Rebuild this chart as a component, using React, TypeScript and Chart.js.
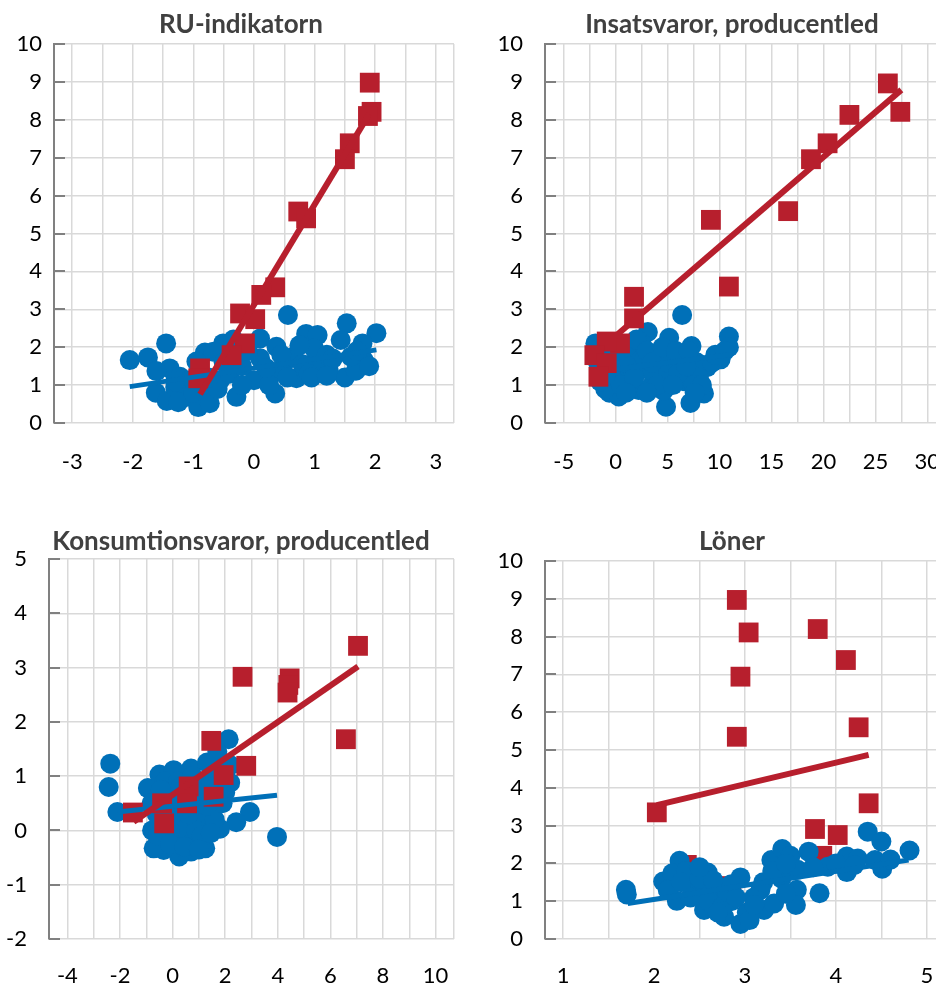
import React, { useEffect, useRef } from 'react';
import { Chart, registerables } from 'chart.js';

Chart.register(...registerables);

const RED = '#B71F2D';
const BLUE = '#0070B8';
const GRID = '#D9D9D9';
const AXIS = '#808080';
const TITLE_COLOR = '#404040';
const FONT_FAMILY = 'Lato, "Open Sans", sans-serif';

// ---------- Panel 1: RU-indikatorn ----------
const ruBlueX = [-2.05, -1.75, -1.45, -1.39, -1.61, -1.62, -1.44, -1.22, -1.11, -0.92, -0.81, -0.51, -0.29, -0.73, -1.06, -0.95, -0.67, -0.34, 0.10, 0.37, 0.56, 0.86, 1.05, 1.53, 2.02, 1.43, 1.79, 0.70, 0.35, 1.50, 1.23, 1.81, 1.68, 1.01, 0.10, 0.48, 0.00, 0.65, -0.56, -0.73, 0.99, -0.40, -0.20, 0.30, -1.30, 1.20, -0.85, -0.60, 1.60, 0.80, -1.30, -0.90, -0.50, -0.10, 0.25, 0.55, 0.90, 1.30, 1.70, 1.90, -1.25, 0.20, 0.75, -0.20, 0.45, 0.95, 1.20, -1.00, -0.75];
const ruBlueY = [1.66, 1.73, 2.10, 1.44, 1.37, 0.80, 0.58, 1.22, 0.69, 0.42, 1.86, 2.10, 0.69, 0.78, 1.13, 1.62, 1.88, 2.20, 2.23, 2.01, 2.85, 2.35, 2.32, 2.63, 2.37, 2.19, 2.10, 1.18, 0.78, 1.20, 1.42, 1.66, 1.38, 1.60, 1.71, 1.49, 1.13, 1.75, 1.13, 0.52, 1.97, 1.30, 1.50, 1.30, 0.95, 1.80, 1.00, 0.90, 1.75, 1.55, 1.10, 1.30, 1.60, 1.90, 1.00, 1.20, 1.30, 1.70, 1.90, 1.50, 0.55, 1.45, 2.05, 1.00, 1.80, 1.20, 1.25, 0.80, 1.20];
const ruRedX = [1.91, 1.94, 1.88, 1.58, 1.50, 0.73, 0.86, 0.35, 0.12, -0.23, 0.02, -0.15, -0.37, -0.89, -0.92];
const ruRedY = [8.98, 8.21, 8.10, 7.38, 6.96, 5.58, 5.40, 3.58, 3.38, 2.89, 2.74, 2.10, 1.79, 1.44, 1.18];
const ruBlueTrendX = [-2.05, 2.02];
const ruBlueTrendY = [0.96, 1.93];
const ruRedTrendX = [-0.89, 1.9];
const ruRedTrendY = [0.76, 8.15];

// ---------- Panel 2: Insatsvaror, producentled ----------
const insBlueX = [6.4, 10.9, 10.9, 10.1, 8.8, 7.3, 8.5, 7.2, 4.85, 5.6, 5.15, 3.1, 6.4, 2.2, -0.6, 0.3, -1.95, 0.3, 4.6, 6.7, 3.9, 2.2, 1.3, -1.0, 1.5, 2.5, 4.2, 3.5, -1.3, 7.8, 9.3, 0.8, 2.8, 5.0, 6.0, 8.0, -1.5, 1.0, 3.2, 7.5, -1.7, -1.2, -0.5, 0.0, 0.5, 1.8, 2.0, 3.0, 3.5, 4.5, 4.0, 5.5, 5.8, 6.8, 7.0, 8.3, 9.6, 10.5, 7.6, 3.0, -1.0, 1.0];
const insBlueY = [2.85, 2.28, 2.0, 1.68, 1.47, 2.03, 0.78, 0.53, 0.43, 1.4, 2.25, 2.4, 1.7, 0.87, 0.8, 0.7, 2.1, 1.2, 0.85, 1.1, 1.8, 1.5, 1.1, 0.9, 1.9, 2.1, 1.3, 1.0, 1.5, 1.6, 1.6, 1.6, 1.7, 1.6, 1.3, 1.2, 1.1, 2.0, 1.4, 1.0, 1.6, 1.9, 1.3, 1.9, 1.0, 1.2, 2.2, 1.9, 1.6, 2.0, 1.0, 1.0, 1.9, 1.5, 1.9, 1.0, 1.8, 1.9, 0.8, 0.8, 1.25, 0.8];
const insRedX = [26.2, 27.4, 22.5, 20.4, 18.8, 16.6, 9.17, 10.9, 1.77, 1.77, 0.42, -0.86, -2.05, -0.86, -1.66];
const insRedY = [8.96, 8.21, 8.13, 7.38, 6.96, 5.59, 5.36, 3.60, 3.33, 2.76, 2.10, 2.15, 1.79, 1.58, 1.22];
const insBlueTrendX = [-1.95, 10.9];
const insBlueTrendY = [1.35, 1.8];
const insRedTrendX = [-0.06, 27.5];
const insRedTrendY = [2.28, 8.79];

// ---------- Panel 3: Konsumtionsvaror, producentled ----------
const konBlueX = [-2.37, -2.43, -2.10, 3.97, 2.94, 2.42, 1.80, 2.13, 2.19, 1.24, 0.70, 0.25, -0.34, -0.72, -0.78, -0.94, -0.50, 0.04, 0.70, 1.31, 0.2, 0.5, 1.0, 0.3, 0.8, 1.2, 0.0, 0.5, 1.0, 1.5, -0.3, 0.2, 1.7, -0.3, 1.5, 0.9, -0.5, 2.2, -0.6, -0.2, 0.1, 0.6, 1.1, 1.4, 0.4, 0.9, -0.1, 1.6, 0.3, 1.9, -0.8, 1.15, -0.55, -0.10, 0.45, 1.00, 1.45, 0.00, 1.30, 0.75, -0.45, 1.85, 2.00, 1.70];
const konBlueY = [1.23, 0.80, 0.34, -0.12, 0.34, 0.15, 0.03, 1.68, 0.88, -0.33, -0.39, -0.48, -0.36, -0.33, 0.0, 0.78, 1.03, 1.11, 1.14, 1.25, 0.3, 0.1, 0.4, -0.1, -0.2, 0.2, 0.6, 0.6, 0.9, 0.5, 0.9, 0.9, 0.8, 0.3, 1.0, 0.0, 0.5, 1.2, 0.3, 0.6, -0.3, 0.3, -0.1, 0.8, 0.4, 0.7, 0.0, 0.2, 0.8, 0.5, 0.5, 0.5, -0.10, -0.25, -0.30, -0.35, -0.05, 0.30, 0.45, 1.00, 0.75, 1.10, 0.70, 1.45];
const konRedX = [7.05, 2.66, 4.45, 4.40, 4.37, 6.59, 1.47, 2.80, 1.94, 0.61, 1.56, 0.55, -0.40, -0.32, -1.51];
const konRedY = [3.40, 2.83, 2.80, 2.68, 2.54, 1.68, 1.65, 1.19, 1.02, 0.81, 0.62, 0.50, 0.50, 0.13, 0.33];
const konBlueTrendX = [-2.11, 3.97];
const konBlueTrendY = [0.34, 0.65];
const konRedTrendX = [-1.48, 7.05];
const konRedTrendY = [0.16, 3.02];

// ---------- Panel 4: Löner ----------
const lonBlueX = [1.69, 1.70, 2.10, 2.28, 2.20, 2.25, 2.38, 2.59, 2.55, 2.77, 2.95, 2.95, 3.02, 3.17, 3.21, 3.32, 3.29, 3.41, 3.50, 3.58, 3.57, 3.56, 3.70, 3.82, 3.91, 4.12, 4.12, 4.24, 4.35, 4.50, 4.43, 4.51, 4.81, 4.00, 2.45, 2.70, 2.85, 3.10, 3.40, 2.35, 2.62, 2.15, 2.30, 2.40, 2.50, 2.60, 2.75, 2.80, 2.85, 2.90, 3.05, 3.20, 3.30, 3.45, 3.45, 2.65, 2.50, 4.20, 4.60, 3.75, 2.70, 3.10];
const lonBlueY = [1.30, 1.18, 1.52, 2.07, 1.74, 1.01, 1.56, 1.76, 0.77, 0.59, 0.40, 1.63, 0.70, 1.30, 0.77, 0.94, 2.09, 2.38, 2.20, 1.83, 1.30, 0.90, 2.31, 1.21, 1.91, 2.18, 1.77, 2.13, 2.84, 2.58, 2.09, 1.86, 2.34, 2.00, 1.30, 1.40, 1.00, 1.10, 1.60, 1.80, 1.20, 1.30, 1.50, 1.10, 1.60, 1.00, 0.85, 1.25, 1.45, 1.10, 0.50, 1.50, 1.80, 1.20, 2.00, 1.55, 1.90, 1.95, 2.10, 1.90, 0.70, 0.90];
const lonRedX = [2.91, 3.04, 3.80, 4.11, 2.95, 2.91, 4.25, 4.36, 2.03, 3.77, 4.02, 3.85, 2.36, 2.80, 2.85];
const lonRedY = [8.97, 8.11, 8.20, 7.38, 6.94, 5.35, 5.60, 3.59, 3.35, 2.91, 2.75, 2.20, 1.96, 1.20, 1.40];
const lonBlueTrendX = [1.71, 4.80];
const lonBlueTrendY = [0.94, 2.09];
const lonRedTrendX = [2.03, 4.36];
const lonRedTrendY = [3.54, 4.87];

type Spec = {
  title: string;
  left: number; top: number; width: number; height: number;
  titleX: number; titleY: number;
  padTop: number; padRight: number; yAxisW: number; xAxisH: number;
  xMin: number; xMax: number; xGrid: number; xLabel: number;
  yMin: number; yMax: number;
  xPad: number; yPad: number;
  // draw order: [red line, blue line, red squares, blue circles] (lower = on top)
  order: number[];
  blueX: number[]; blueY: number[]; redX: number[]; redY: number[];
  btX: number[]; btY: number[]; rtX: number[]; rtY: number[];
};

const specs: Spec[] = [
  {
    title: 'RU-indikatorn', left: 0, top: 0, width: 468, height: 493,
    titleX: 241, titleY: 25, padTop: 44, padRight: 14, yAxisW: 54, xAxisH: 70,
    xMin: -3.3, xMax: 3.3, xGrid: 0.5, xLabel: 1, yMin: 0, yMax: 10, xPad: 26, yPad: 12,
    order: [0, 1, 2, 3],
    blueX: ruBlueX, blueY: ruBlueY, redX: ruRedX, redY: ruRedY,
    btX: ruBlueTrendX, btY: ruBlueTrendY, rtX: ruRedTrendX, rtY: ruRedTrendY,
  },
  {
    title: 'Insatsvaror, producentled', left: 468, top: 0, width: 500, height: 493,
    titleX: 264, titleY: 25, padTop: 44, padRight: 23, yAxisW: 77, xAxisH: 70,
    xMin: -6.8, xMax: 31.7, xGrid: 2.5, xLabel: 5, yMin: 0, yMax: 10, xPad: 26, yPad: 22,
    order: [0, 2, 1, 3],
    blueX: insBlueX, blueY: insBlueY, redX: insRedX, redY: insRedY,
    btX: insBlueTrendX, btY: insBlueTrendY, rtX: insRedTrendX, rtY: insRedTrendY,
  },
  {
    title: 'Konsumtionsvaror, producentled', left: 0, top: 493, width: 468, height: 493,
    titleX: 241, titleY: 49, padTop: 66, padRight: 14, yAxisW: 49, xAxisH: 47,
    xMin: -4.7, xMax: 10.7, xGrid: 1, xLabel: 2, yMin: -2, yMax: 5, xPad: 24, yPad: 22,
    order: [0, 1, 2, 3],
    blueX: konBlueX, blueY: konBlueY, redX: konRedX, redY: konRedY,
    btX: konBlueTrendX, btY: konBlueTrendY, rtX: konRedTrendX, rtY: konRedTrendY,
  },
  {
    title: 'Löner', left: 468, top: 493, width: 500, height: 493,
    titleX: 264, titleY: 49, padTop: 68, padRight: 23, yAxisW: 77, xAxisH: 47,
    xMin: 0.8, xMax: 5.2, xGrid: 0.5, xLabel: 1, yMin: 0, yMax: 10, xPad: 24, yPad: 22,
    order: [0, 1, 3, 2],
    blueX: lonBlueX, blueY: lonBlueY, redX: lonRedX, redY: lonRedY,
    btX: lonBlueTrendX, btY: lonBlueTrendY, rtX: lonRedTrendX, rtY: lonRedTrendY,
  },
];

const pts = (xs: number[], ys: number[]) => xs.map((x, i) => ({ x, y: ys[i] }));

function buildChart(canvas: HTMLCanvasElement, s: Spec) {
  const decor = {
    id: 'decor',
    beforeDatasetsDraw(chart: any) {
      const ctx = chart.ctx;
      const area = chart.chartArea;
      const ys = chart.scales.y;
      ctx.save();
      ctx.strokeStyle = AXIS;
      ctx.lineWidth = 2;
      ys.ticks.forEach((t: any) => {
        const py = Math.round(ys.getPixelForValue(t.value));
        ctx.beginPath();
        ctx.moveTo(area.left, py);
        ctx.lineTo(area.left + 11, py);
        ctx.stroke();
      });
      ctx.restore();
    },
    afterDraw(chart: any) {
      const ctx = chart.ctx;
      ctx.save();
      ctx.font = `bold 26px ${FONT_FAMILY}`;
      ctx.fillStyle = TITLE_COLOR;
      ctx.textAlign = 'center';
      ctx.textBaseline = 'middle';
      ctx.fillText(s.title, s.titleX, s.titleY);
      ctx.restore();
    },
  };

  return new Chart(canvas, {
    type: 'scatter',
    data: {
      datasets: [
        {
          data: pts(s.rtX, s.rtY), showLine: true, borderColor: RED, borderWidth: 6,
          pointRadius: 0, order: s.order[0], borderCapStyle: 'butt',
        },
        {
          data: pts(s.btX, s.btY), showLine: true, borderColor: BLUE, borderWidth: 5,
          pointRadius: 0, order: s.order[1], borderCapStyle: 'butt',
        },
        {
          data: pts(s.redX, s.redY), pointStyle: 'rect', pointRadius: 14,
          backgroundColor: RED, borderWidth: 0, order: s.order[2],
        },
        {
          data: pts(s.blueX, s.blueY), pointStyle: 'circle', pointRadius: 10,
          backgroundColor: BLUE, borderWidth: 0, order: s.order[3],
        },
      ],
    } as any,
    options: {
      animation: false,
      responsive: false,
      devicePixelRatio: 1,
      events: [],
      layout: { padding: { top: s.padTop, right: s.padRight, left: 0, bottom: 0 } },
      plugins: { legend: { display: false }, tooltip: { enabled: false }, title: { display: false } },
      scales: {
        x: {
          type: 'linear', min: s.xMin, max: s.xMax,
          grid: { color: GRID, lineWidth: 1.5, drawTicks: true, tickLength: s.xPad, tickColor: 'rgba(0,0,0,0)' },
          border: { display: false },
          afterBuildTicks: (scale: any) => {
            const ticks: any[] = [];
            const start = Math.ceil(s.xMin / s.xGrid - 1e-9);
            for (let k = start; k * s.xGrid <= s.xMax + 1e-9; k++) {
              ticks.push({ value: Math.round(k * s.xGrid * 1000) / 1000 });
            }
            if (Math.abs(ticks[ticks.length - 1].value - s.xMax) > 1e-6) ticks.push({ value: s.xMax });
            scale.ticks = ticks;
          },
          afterFit: (scale: any) => { scale.height = s.xAxisH; },
          ticks: {
            autoSkip: false, maxRotation: 0, padding: 0, color: '#000',
            font: { size: 22, family: FONT_FAMILY },
            callback: (v: any) => {
              const r = v / s.xLabel;
              return Math.abs(r - Math.round(r)) < 1e-6 ? String(Math.round(v)) : '';
            },
          },
        },
        y: {
          type: 'linear', min: s.yMin, max: s.yMax,
          grid: { color: GRID, lineWidth: 1.5, drawTicks: false },
          border: { display: true, color: AXIS, width: 2 },
          afterFit: (scale: any) => { scale.width = s.yAxisW; },
          ticks: {
            stepSize: 1, autoSkip: false, padding: s.yPad, color: '#000',
            font: { size: 22, family: FONT_FAMILY },
          },
        },
      },
    } as any,
    plugins: [decor],
  });
}

function Panel({ spec }: { spec: Spec }) {
  const ref = useRef<HTMLCanvasElement | null>(null);
  useEffect(() => {
    if (!ref.current) return;
    const chart = buildChart(ref.current, spec);
    return () => chart.destroy();
  }, [spec]);
  return (
    <canvas
      ref={ref}
      width={spec.width}
      height={spec.height}
      style={{ position: 'absolute', left: spec.left, top: spec.top, width: spec.width, height: spec.height }}
    />
  );
}

export default function App() {
  return (
    <div
      style={{
        position: 'absolute', left: 0, top: 0, width: 936, height: 986,
        overflow: 'hidden', background: '#fff',
      }}
    >
      {specs.map((s) => (
        <Panel key={s.title} spec={s} />
      ))}
    </div>
  );
}
